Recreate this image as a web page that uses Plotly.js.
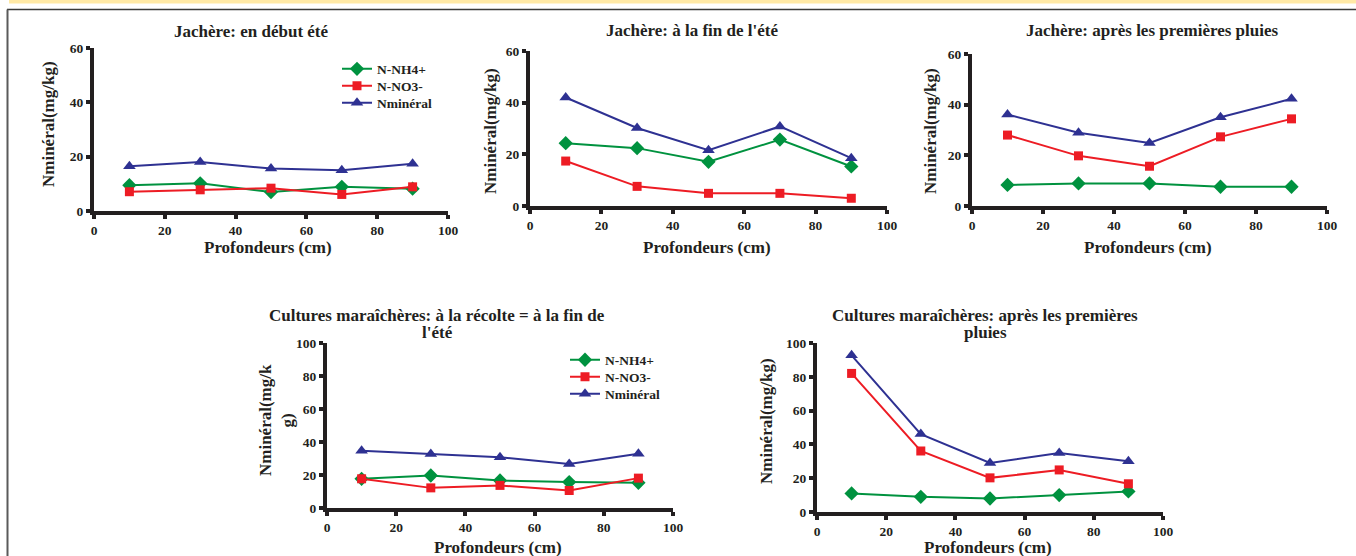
<!DOCTYPE html>
<html>
<head>
<meta charset="utf-8">
<script src="https://cdn.plot.ly/plotly-3.0.1.min.js"></script>
<style>html,body{margin:0;padding:0;background:#fff;}#chart{width:1356px;height:556px;}</style>
</head>
<body>
<div id="chart"></div>
<script>
// ---- data ----
const depths = [10, 30, 50, 70, 90];
const seriesNames = ["N-NH4+", "N-NO3-", "Nminéral"];

// Jachère: en début été
const j1_nh4  = [9.5, 10.2, 7.0, 8.9, 8.2];
const j1_no3  = [7.1, 7.8, 8.4, 6.1, 8.9];
const j1_nmin = [16.5, 18.0, 15.6, 15.0, 17.4];
// Jachère: à la fin de l'été
const j2_nh4  = [24.3, 22.4, 17.1, 25.7, 15.3];
const j2_no3  = [17.4, 7.6, 4.9, 4.9, 3.0];
const j2_nmin = [42.0, 30.2, 21.6, 30.8, 18.5];
// Jachère: après les premières pluies
const j3_nh4  = [8.3, 8.9, 8.9, 7.6, 7.6];
const j3_no3  = [28.0, 19.8, 15.7, 27.3, 34.4];
const j3_nmin = [36.1, 28.9, 24.9, 35.0, 42.3];
// Cultures maraîchères: à la récolte = à la fin de l'été
const c1_nh4  = [17.7, 19.7, 16.7, 15.7, 15.3];
const c1_no3  = [17.7, 12.2, 13.7, 10.6, 18.1];
const c1_nmin = [34.7, 32.7, 30.7, 26.7, 32.9];
// Cultures maraîchères: après les premières pluies
const c2_nh4  = [11.0, 9.0, 8.0, 10.0, 12.2];
const c2_no3  = [82.0, 36.1, 20.2, 24.9, 16.7];
const c2_nmin = [92.7, 46.1, 29.0, 34.9, 30.0];

const panelTitles = [
  ["Jachère: en début été"],
  ["Jachère: à la fin de l'été"],
  ["Jachère: après les premières pluies"],
  ["Cultures maraîchères: à la récolte = à la fin de", "l'été"],
  ["Cultures maraîchères: après les premières", "pluies"]
];
const xTitle = "Profondeurs (cm)";
const yTitles = ["Nminéral(mg/kg)", "Nminéral(mg/kg)", "Nminéral(mg/kg)", "Nminéral(mg/k<br>g)", "Nminéral(mg/kg)"];
const panelData = [
  [j1_nh4, j1_no3, j1_nmin],
  [j2_nh4, j2_no3, j2_nmin],
  [j3_nh4, j3_no3, j3_nmin],
  [c1_nh4, c1_no3, c1_nmin],
  [c2_nh4, c2_no3, c2_nmin]
];
const yMax = [60, 60, 60, 100, 100];

// ---- styling ----
const W = 1356, H = 556;
const FONT = "Liberation Serif, Times New Roman, serif";
const INK = "#231f20";
const colors = ["#00923f", "#ed1c24", "#2e3192"];
const symbols = ["diamond", "square", "triangle-up"];
const msizes = [11, 9, 11];

// pixel boxes: [left, right, top, bottom]
const boxes = [
  [94, 448, 48, 211],
  [530, 887, 51, 206],
  [972, 1327, 54, 206],
  [327, 673, 343, 508],
  [817, 1163, 343, 512]
];
// title line centres [x, y of first line]
const titlePos = [[251, 32], [692, 31], [1152, 31], [437, 315], [985, 315]];
const yTitlePos = [[49, 124], [490, 131], [930, 131], [276, 420], [766, 421]];
const xTitlePos = [[268, 247], [707, 247], [1148, 247], [498, 547], [988, 547]];
// legend rows: [text-left x, first row y, row step]
const legendPos = {0: [377, 69, 17], 3: [605, 360, 17]};

const traces = [];
const layout = {
  width: W, height: H,
  margin: {l: 0, r: 0, t: 0, b: 0},
  paper_bgcolor: "#ffffff", plot_bgcolor: "rgba(0,0,0,0)",
  font: {family: FONT, color: INK, size: 14, weight: "bold"},
  showlegend: true,
  annotations: [],
  shapes: [
    {type: "rect", xref: "paper", yref: "paper", x0: 9 / W, x1: 1, y0: 1 - 3.5 / H, y1: 1, fillcolor: "#ffe9a6", line: {width: 0}},
    {type: "line", xref: "paper", yref: "paper", x0: 7 / W, x1: 1, y0: 1 - 9.5 / H, y1: 1 - 9.5 / H, line: {color: "#3a3a3a", width: 1.5}},
    {type: "line", xref: "paper", yref: "paper", x0: 7.5 / W, x1: 7.5 / W, y0: 0, y1: 1 - 9.5 / H, line: {color: "#5a5a5a", width: 2}}
  ]
};

const axisCommon = {
  showgrid: false, zeroline: false, showline: true, linecolor: INK, linewidth: 4,
  ticks: "outside", ticklen: 4, tickwidth: 4, tickcolor: INK,
  tickfont: {family: FONT, size: 13.5, color: INK, weight: "bold"}, fixedrange: true
};

let legendCount = 0;
panelData.forEach((series, p) => {
  const n = p + 1;
  const xa = "x" + (n === 1 ? "" : n), ya = "y" + (n === 1 ? "" : n);
  const b = boxes[p];
  const xdom = [b[0] / W, b[1] / W];
  const ydom = [1 - b[3] / H, 1 - b[2] / H];
  layout["xaxis" + (n === 1 ? "" : n)] = Object.assign({}, axisCommon, {
    domain: xdom, range: [0, 100], dtick: 20, tick0: 0, anchor: ya
  });
  layout["yaxis" + (n === 1 ? "" : n)] = Object.assign({}, axisCommon, {
    domain: ydom, range: [0, yMax[p]], dtick: 20, tick0: 0, anchor: xa
  });
  // inner half of the crossing ticks
  layout["xaxis" + (n + 5)] = {overlaying: xa, anchor: ya, range: [0, 100], dtick: 20, tick0: 0,
    showgrid: false, zeroline: false, showline: false, showticklabels: false,
    ticks: "inside", ticklen: 4, tickwidth: 4, tickcolor: INK, fixedrange: true};
  layout["yaxis" + (n + 5)] = {overlaying: ya, anchor: xa, range: [0, yMax[p]], dtick: 20, tick0: 0,
    showgrid: false, zeroline: false, showline: false, showticklabels: false,
    ticks: "inside", ticklen: 4, tickwidth: 4, tickcolor: INK, fixedrange: true};

  series.forEach((vals, s) => {
    const tr = {
      type: "scatter", mode: "lines+markers", x: depths, y: vals,
      xaxis: xa, yaxis: ya, name: seriesNames[s],
      line: {color: colors[s], width: 2},
      marker: {symbol: symbols[s], size: msizes[s], color: colors[s]},
      showlegend: false,
      hoverinfo: "x+y+name"
    };
    if (legendPos[p]) {
      const lp = legendPos[p];
      const key = legendCount === 0 ? "legend" : "legend" + (legendCount + 1);
      legendCount++;
      tr.showlegend = true;
      tr.legend = key;
      layout[key] = {
        x: (lp[0] - 40) / W, y: 1 - (lp[1] + s * lp[2]) / H, xanchor: "left", yanchor: "middle",
        bgcolor: "rgba(0,0,0,0)", borderwidth: 0,
        font: {family: FONT, size: 13.5, color: INK, weight: "bold"}
      };
    }
    traces.push(tr);
  });

  panelTitles[p].forEach((line, k) => {
    layout.annotations.push({
      xref: "paper", yref: "paper", x: titlePos[p][0] / W, y: 1 - (titlePos[p][1] + k * 17) / H,
      xanchor: "center", yanchor: "middle", showarrow: false, text: line,
      font: {family: FONT, size: 17, color: INK, weight: "bold"}
    });
  });
  layout.annotations.push({
    xref: "paper", yref: "paper", x: xTitlePos[p][0] / W, y: 1 - xTitlePos[p][1] / H,
    xanchor: "center", yanchor: "middle", showarrow: false, text: xTitle,
    font: {family: FONT, size: 17, color: INK, weight: "bold"}
  });
  layout.annotations.push({
    xref: "paper", yref: "paper", x: yTitlePos[p][0] / W, y: 1 - yTitlePos[p][1] / H,
    xanchor: "center", yanchor: "middle", showarrow: false, text: yTitles[p], textangle: -90,
    font: {family: FONT, size: 17, color: INK, weight: "bold"}
  });
});

Plotly.newPlot("chart", traces, layout, {displayModeBar: false, staticPlot: true});
</script>
</body>
</html>
